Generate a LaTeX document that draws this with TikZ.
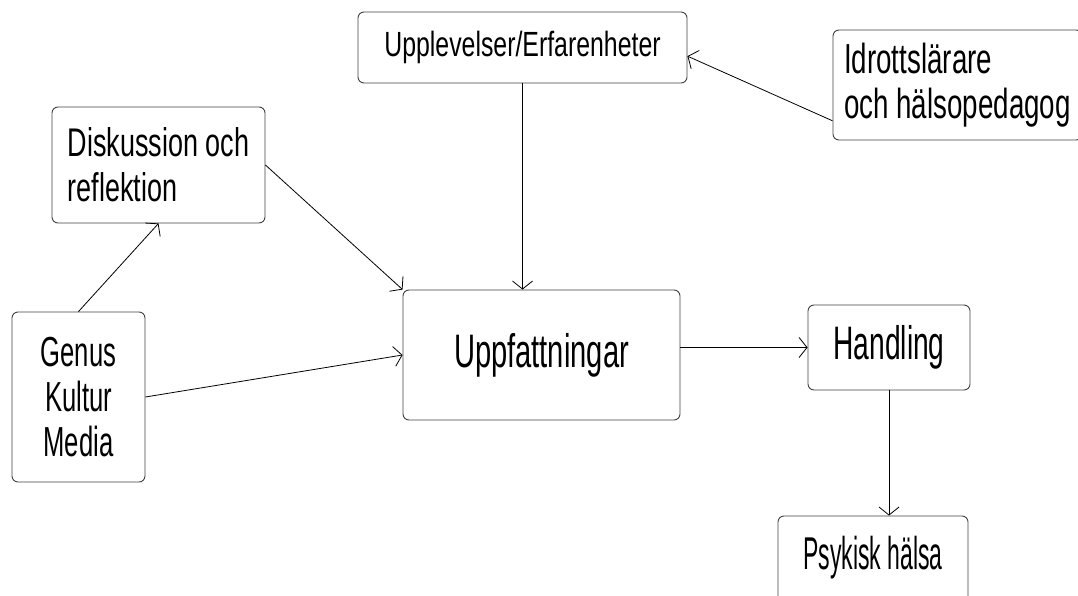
\documentclass[tikz,border=0pt]{standalone}
\usepackage{fontspec}
\setmainfont{Liberation Sans}
\usetikzlibrary{arrows.meta}
\newcommand\boxfont[2]{\fontspec[FakeStretch=#2]{Liberation Sans}\fontsize{#1}{45}\selectfont}

\begin{document}
\begin{tikzpicture}[x=1pt,y=-1pt,>={Straight Barb[length=8pt,width=20pt]},
  every node/.style={draw=black!75,line width=0.9pt,rounded corners=6pt,inner sep=0pt,align=left}]
  \useasboundingbox (0,0) rectangle (1078,596);
  \clip (0,0) rectangle (1078,596);
  \node[minimum width=329,minimum height=71,font=\boxfont{35}{0.71}] (upl) at (522.5,47.5) {Upplevelser/Erfarenheter};
  \node[minimum width=249,minimum height=110,font=\boxfont{42}{0.66}] (idr) at (957.5,85) {Idrottslärare\\och hälsopedagog};
  \node[minimum width=213,minimum height=116,font=\boxfont{40}{0.675}] (disk) at (158.5,165) {Diskussion och\\reflektion};
  \node[minimum width=133,minimum height=170,align=center,font=\boxfont{42}{0.61}] (gen) at (78.5,397) {Genus\\Kultur\\Media};
  \node[minimum width=277,minimum height=130,font=\boxfont{47}{0.62}] (uppf) at (541.5,355) {Uppfattningar};
  \node[minimum width=162,minimum height=85,font=\boxfont{47}{0.6}] (hand) at (889,347.5) {Handling};
  \node[minimum width=190,minimum height=94,text depth=20pt,font=\boxfont{46}{0.5}] (psy) at (873,563) {Psykisk hälsa};
  \draw[->,line width=0.8pt](idr.196) -- (upl.-3);
  \draw[->,line width=0.8pt](upl.south) -- (upl.south |- uppf.north);
  \draw[->,line width=0.8pt](disk.east) -- (uppf.north west);
  \draw[->,line width=0.8pt](gen.north) -- (disk.south);
  \draw[->,line width=0.8pt](gen.east) -- (uppf.west);
  \draw[->,line width=0.8pt](uppf.east |- hand.west) -- (hand.west);
  \draw[->,line width=0.8pt](hand.south) -- (hand.south |- psy.north);
\end{tikzpicture}
\end{document}
